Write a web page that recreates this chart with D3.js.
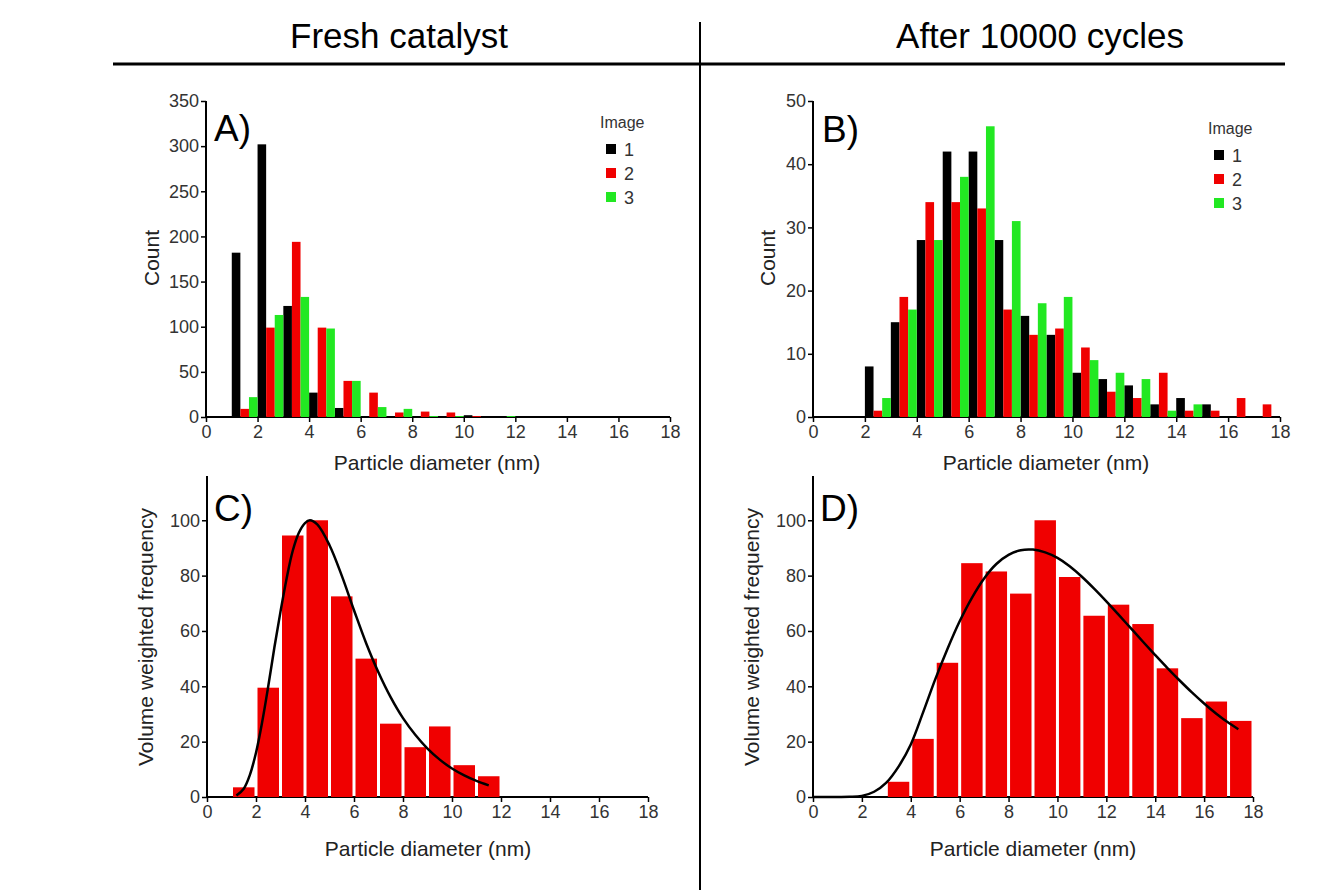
<!DOCTYPE html>
<html>
<head>
<meta charset="utf-8">
<script src="https://cdn.jsdelivr.net/npm/d3@7"></script>
<style>
  body { margin: 0; background: #fff; }
  svg { font-family: "Liberation Sans", Arial, sans-serif; }
  .tick text { fill: #333; font-size: 18px; }
  .axis path, .axis line { stroke: #000; }
</style>
</head>
<body>
<div id="chart"></div>
<script>
// ---- data ----
var seriesNames = ["1", "2", "3"];
var seriesColors = ["#000000", "#f00000", "#22e822"];

// A) fresh catalyst, counts per 1 nm bin (bin start)
var binsA = [1, 2, 3, 4, 5, 6, 7, 8, 9, 10, 11];
var blackA = [182, 302, 123, 27, 10, 1, 1, 1, 1, 2, 1];
var redA   = [9, 99, 194, 99, 40, 27, 5, 6, 5, 1, 0];
var greenA = [22, 113, 133, 98, 40, 11, 9, 1, 1, 0, 1];

// B) after 10000 cycles
var binsB = [2, 3, 4, 5, 6, 7, 8, 9, 10, 11, 12, 13, 14, 15, 16, 17];
var blackB = [8, 15, 28, 42, 42, 28, 16, 13, 7, 6, 5, 2, 3, 2, 0, 0];
var redB   = [1, 19, 34, 34, 33, 17, 13, 14, 11, 4, 3, 7, 1, 1, 3, 2];
var greenB = [3, 17, 28, 38, 46, 31, 18, 19, 9, 7, 6, 1, 2, 0, 0, 0];

// C) volume weighted, fresh
var binsC = [1, 2, 3, 4, 5, 6, 7, 8, 9, 10, 11];
var valsC = [3.5, 39.5, 94.5, 100, 72.5, 50, 26.5, 18, 25.5, 11.5, 7.5];
var fitCx = [1.2, 1.5, 1.75, 2, 2.25, 2.5, 2.75, 3, 3.25, 3.5, 3.75, 4, 4.2, 4.5, 5, 5.5, 6, 6.5, 7, 7.5, 8, 8.5, 9, 9.5, 10, 10.5, 11, 11.5];
var fitCy = [0.5, 3, 8, 16, 27, 40, 54, 67, 79, 89, 95.5, 99, 100, 98.5, 91, 80, 67.5, 55.5, 45, 36, 28.5, 22.5, 17.5, 13.5, 10.3, 7.8, 5.8, 4.2];

// D) volume weighted, after cycling
var binsD = [3, 4, 5, 6, 7, 8, 9, 10, 11, 12, 13, 14, 15, 16, 17];
var valsD = [5.5, 21, 48.5, 84.5, 81.5, 73.5, 100, 79.5, 65.5, 69.5, 62.5, 46.5, 28.5, 34.5, 27.5];
var fitDx = [0, 1, 1.5, 2, 2.5, 3, 3.5, 4, 4.5, 5, 5.5, 6, 6.5, 7, 7.5, 8, 8.5, 9, 9.5, 10, 10.5, 11, 11.5, 12, 12.5, 13, 13.5, 14, 14.5, 15, 15.5, 16, 16.5, 17, 17.4];
var fitDy = [0, 0, 0.05, 0.4, 1.9, 5.2, 11, 19, 30.5, 42.5, 53.5, 63.5, 72, 79, 84.2, 87.5, 89.2, 89.4, 88.4, 86.4, 83.4, 79.6, 75.3, 70.7, 65.9, 61, 56.1, 51.3, 46.6, 42.1, 37.8, 33.8, 30.1, 26.8, 24.5];

var xTicks = [0, 2, 4, 6, 8, 10, 12, 14, 16, 18];
var xMinor = [1, 3, 5, 7, 9, 11, 13, 15, 17];

var width = 1330, height = 890;

var svg = d3.select("#chart").append("svg")
  .attr("width", width)
  .attr("height", height);

// header
svg.append("text").attr("x", 399).attr("y", 48).attr("text-anchor", "middle")
  .style("font-size", "35px").text("Fresh catalyst");
svg.append("text").attr("x", 1040).attr("y", 48).attr("text-anchor", "middle")
  .style("font-size", "35px").text("After 10000 cycles");
svg.append("line").attr("x1", 113).attr("x2", 1285).attr("y1", 64).attr("y2", 64)
  .attr("stroke", "#000").attr("stroke-width", 3);
svg.append("line").attr("x1", 700).attr("x2", 700).attr("y1", 22).attr("y2", 890)
  .attr("stroke", "#000").attr("stroke-width", 2);

function panel(p) {
  var x = d3.scaleLinear().domain([0, 18]).range([p.left, p.right]);
  var y = d3.scaleLinear().domain([0, p.yMax]).range([p.bottom, p.top]);
  var g = svg.append("g");

  // axes
  var xa = g.append("g").attr("class", "axis").attr("transform", "translate(0," + p.bottom + ")");
  xa.call(d3.axisBottom(x).tickValues(xMinor).tickSize(3).tickFormat(""));
  xa.call(d3.axisBottom(x).tickValues(xTicks).tickSize(5).tickSizeOuter(0).tickPadding(3));
  var ya = g.append("g").attr("class", "axis").attr("transform", "translate(" + p.left + ",0)");
  ya.call(d3.axisLeft(y).tickValues(p.yMinor).tickSize(3).tickFormat(""));
  ya.call(d3.axisLeft(y).tickValues(p.yTicks).tickSize(5).tickSizeOuter(0).tickPadding(2));
  g.selectAll(".axis line").attr("stroke-width", 1.5);
  g.selectAll(".axis .domain").remove();
  g.append("line").attr("x1", p.left).attr("x2", x(18)).attr("y1", p.bottom).attr("y2", p.bottom)
    .attr("stroke", "#000").attr("stroke-width", 2);
  g.append("line").attr("x1", p.left).attr("x2", p.left).attr("y1", p.bottom).attr("y2", p.top)
    .attr("stroke", "#000").attr("stroke-width", 2);

  p.draw(g, x, y);

  g.append("text").attr("x", p.xLabelX).attr("y", p.xLabelY).attr("text-anchor", "middle")
    .style("font-size", "21px").attr("fill", "#222").text("Particle diameter (nm)");
  g.append("text").attr("transform", "translate(" + p.yLabelX + "," + p.yLabelY + ") rotate(-90)")
    .attr("text-anchor", "middle").style("font-size", "21px").attr("fill", "#222").text(p.yLabel);
  g.append("text").attr("x", p.tagX).attr("y", p.tagY).style("font-size", "37px").text(p.tag);
}

function groupedBars(bins, series, legendX, legendY) {
  return function(g, x, y) {
    series.forEach(function(vals, si) {
      g.selectAll(null).data(bins).enter().append("rect")
        .attr("x", function(b) { return x(b + si / 3); })
        .attr("width", function(b) { return x(b + (si + 1) / 3) - x(b + si / 3); })
        .attr("y", function(b, i) { return y(vals[i]); })
        .attr("height", function(b, i) { return y(0) - y(vals[i]); })
        .attr("fill", seriesColors[si]);
    });
    var lg = g.append("g").attr("transform", "translate(" + legendX + "," + legendY + ")");
    lg.append("text").attr("x", 0).attr("y", 0).style("font-size", "16px").attr("fill", "#333").text("Image");
    seriesNames.forEach(function(n, i) {
      lg.append("rect").attr("x", 6).attr("y", 16 + i * 24).attr("width", 10).attr("height", 10)
        .attr("fill", seriesColors[i]);
      lg.append("text").attr("x", 24).attr("y", 28 + i * 24).style("font-size", "18px")
        .attr("fill", "#333").text(n);
    });
  };
}

function fitBars(bins, vals, fx, fy) {
  return function(g, x, y) {
    g.selectAll(null).data(bins).enter().append("rect")
      .attr("x", function(b) { return x(b) + 1.5; })
      .attr("width", function(b) { return x(b + 1) - x(b) - 3; })
      .attr("y", function(b, i) { return y(vals[i]); })
      .attr("height", function(b, i) { return y(0) - y(vals[i]); })
      .attr("fill", "#f00000");
    var line = d3.line()
      .x(function(d) { return x(d[0]); })
      .y(function(d) { return y(d[1]); })
      .curve(d3.curveCatmullRom);
    g.append("path").datum(d3.zip(fx, fy)).attr("d", line)
      .attr("fill", "none").attr("stroke", "#000").attr("stroke-width", 2.5);
  };
}

panel({
  left: 206, right: 670, bottom: 417, top: 101, yMax: 350,
  yTicks: [0, 50, 100, 150, 200, 250, 300, 350], yMinor: [25, 75, 125, 175, 225, 275, 325],
  xLabelX: 437, xLabelY: 470, yLabel: "Count", yLabelX: 159, yLabelY: 258,
  tag: "A)", tagX: 214, tagY: 141,
  draw: groupedBars(binsA, [blackA, redA, greenA], 600, 128)
});

panel({
  left: 813, right: 1280, bottom: 417, top: 101, yMax: 50,
  yTicks: [0, 10, 20, 30, 40, 50], yMinor: [5, 15, 25, 35, 45],
  xLabelX: 1046, xLabelY: 470, yLabel: "Count", yLabelX: 775, yLabelY: 258,
  tag: "B)", tagX: 822, tagY: 142,
  draw: groupedBars(binsB, [blackB, redB, greenB], 1208, 134)
});

panel({
  left: 207, right: 648, bottom: 797, top: 476, yMax: 116,
  yTicks: [0, 20, 40, 60, 80, 100], yMinor: [10, 30, 50, 70, 90, 110],
  xLabelX: 428, xLabelY: 856, yLabel: "Volume weighted frequency", yLabelX: 153, yLabelY: 637,
  tag: "C)", tagX: 214, tagY: 521,
  draw: fitBars(binsC, valsC, fitCx, fitCy)
});

panel({
  left: 813, right: 1253, bottom: 797, top: 476, yMax: 116,
  yTicks: [0, 20, 40, 60, 80, 100], yMinor: [10, 30, 50, 70, 90, 110],
  xLabelX: 1033, xLabelY: 856, yLabel: "Volume weighted frequency", yLabelX: 759, yLabelY: 637,
  tag: "D)", tagX: 820, tagY: 521,
  draw: fitBars(binsD, valsD, fitDx, fitDy)
});
</script>
</body>
</html>
